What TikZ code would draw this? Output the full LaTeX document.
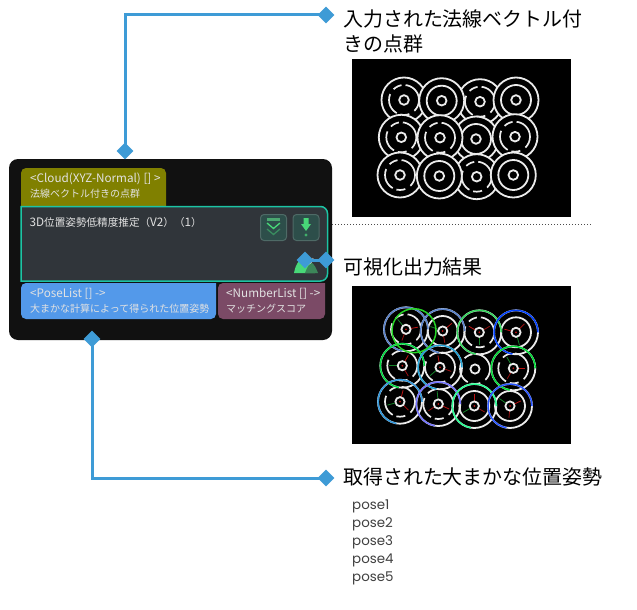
\documentclass[tikz,border=0pt]{standalone}
\usepackage{fontspec}
\usepackage{xcolor}
\usetikzlibrary{shapes.geometric, positioning}
\setmainfont{Noto Sans CJK JP}
\newfontfamily\posefont{Poppins}
\newcommand{\latinpart}[1]{{\fontsize{11.7}{15}\selectfont #1}}
\definecolor{linkblue}{RGB}{62,155,214}
\definecolor{cardblack}{RGB}{17,17,17}
\definecolor{bodygrey}{RGB}{48,53,58}
\definecolor{bodyteal}{RGB}{28,196,164}
\definecolor{hdrolive}{RGB}{128,128,0}
\definecolor{hdrblue}{RGB}{83,153,234}
\definecolor{hdrplum}{RGB}{123,74,102}
\definecolor{cardtext}{RGB}{226,226,226}
\definecolor{btnfill}{RGB}{45,78,74}
\definecolor{btnedge}{RGB}{78,106,102}
\definecolor{iconmint}{RGB}{72,216,120}
\definecolor{axisgreen}{RGB}{20,130,40}
\definecolor{axisred}{RGB}{190,20,20}
\tikzset{
  pindiamond/.style={diamond, fill=linkblue, inner sep=0pt, minimum size=17pt},
  linkline/.style={draw=linkblue, line width=3pt},
  captiontext/.style={anchor=west, inner sep=0pt, font=\fontsize{19.95}{25}\selectfont, align=left, text=black},
  porttext/.style={anchor=west, inner sep=0pt, font=\fontsize{10}{15}\selectfont, align=left, text=cardtext},
  posetext/.style={anchor=west, inner sep=0pt, font=\fontsize{13.4}{16}\selectfont\posefont, text=black!75},
  iconbtn/.style={rectangle, draw=btnedge, fill=btnfill, line width=1pt, rounded corners=3.5pt,
    minimum width=26pt, minimum height=26pt, inner sep=0pt},
  ringwhite/.style={draw=white!92!black, line width=1.8pt},
  brokenring/.style={draw=white!92!black, line width=1.7pt, dash pattern=on 22pt off 4pt on 9pt off 6pt}
}

\begin{document}
\begin{tikzpicture}[x=1pt, y=-1pt]
  \useasboundingbox (0,0) rectangle (637,610);
  \fill[white] (0,0) rectangle (637,610);

  % ── Card background and header tabs ──────────────────────────────────────
  \fill[cardblack, rounded corners=9pt] (9,159) rectangle (332,340);
  \fill[hdrolive, rounded corners=5pt] (21,206) -- (21,168) -- (166,168) [sharp corners] -- (166,206) -- cycle;
  \fill[hdrblue, rounded corners=5pt] (21,283) [sharp corners] -- (216,283) [rounded corners=5pt] -- (216,319) -- (21,319) -- cycle;
  \fill[hdrplum, rounded corners=5pt] (218,283) [sharp corners] -- (325,283) [rounded corners=5pt] -- (325,319) -- (218,319) -- cycle;
  \draw[bodyteal, fill=bodygrey, line width=1.5pt, rounded corners=7pt]
    (21,206.5) [sharp corners] -- (21,206.5) [rounded corners=7pt] -- (327.5,206.5) -- (327.5,281) [sharp corners] -- (21,281) -- cycle;

  % ── Card texts ───────────────────────────────────────────────────────────
  \node[porttext] (cloudport) at (30,186) {\latinpart{<Cloud(XYZ-Normal) [] >}\\法線ベクトル付きの点群};
  \node[porttext, font=\fontsize{10.6}{15}\selectfont] (bodytitle) at (29.5,222) {\latinpart{3D}位置姿勢低精度推定（\latinpart{V2}）（\latinpart{1}）};
  \node[porttext] (poseport) at (30,301) {\latinpart{<PoseList [] ->}\\大まかな計算によって得られた位置姿勢};
  \node[porttext] (numberport) at (226,301) {\latinpart{<NumberList [] ->}\\マッチングスコア};

  % ── Buttons and output icon ──────────────────────────────────────────────
  \node[iconbtn] (btnskip) at (273.5,227.5) {};
  \node[iconbtn] (btnrun) at (306,227.5) {};
  \fill[iconmint!55!btnedge] (267,217.5) rectangle (280,220.5);
  \draw[iconmint, line width=1.3pt] (267,223) -- (273.5,228.5) -- (280,223);
  \draw[iconmint!45!btnfill, line width=1.3pt] (267,229) -- (273.5,234.5) -- (280,229);
  \fill[iconmint] (303.5,218) rectangle (308.5,224) (301,224) -- (311,224) -- (306,231) -- cycle;
  \fill[iconmint!70!btnfill] (306,235) circle (1.6pt);
  \fill[iconmint] (294,273) .. controls (296,262) and (301,258) .. (305,258) .. controls (309,258) and (312,264) .. (315,273) -- cycle;
  \fill[iconmint!50!bodygrey] (305,273) .. controls (307,267) and (310,263) .. (312,263) .. controls (314,264) and (316,268) .. (318,273) -- cycle;
  \draw[white!85!black, line width=0.8pt] (300,258) arc (180:0:6.5);

  % ── Pins and links ───────────────────────────────────────────────────────
  \node[pindiamond] (pincloud) at (125,151) {};
  \node[pindiamond] (pincaptop) at (326,15) {};
  \node[pindiamond] (pinpose) at (92,339) {};
  \node[pindiamond] (pincapbot) at (326,478) {};
  \node[pindiamond] (pinview) at (305,260) {};
  \node[pindiamond] (pincapmid) at (326,260) {};
  \coordinate (dotstart) at (332,224);
  \coordinate (dotend) at (591,224);

  \draw[linkline] (pincloud.center) |- (pincaptop.center);
  \draw[linkline] (pinpose.center) |- (pincapbot.center);
  \draw[linkline] (pinview.center) -- (pincapmid.center);
  \draw[black!70, line width=1pt, dash pattern=on 1.2pt off 1.8pt] (dotstart) -- (dotend);

  % ── Captions ─────────────────────────────────────────────────────────────
  \node[captiontext] (capcloud) at (343,31) {入力された法線ベクトル付\\きの点群};
  \node[captiontext] (capview) at (343,266.5) {可視化出力結果};
  \node[captiontext] (cappose) at (343,476.5) {取得された大まかな位置姿勢};
  \node[posetext] (poseone) at (352,506) {pose1};
  \node[posetext] (posetwo) at (352,524) {pose2};
  \node[posetext] (posethree) at (352,542) {pose3};
  \node[posetext] (posefour) at (352,560) {pose4};
  \node[posetext] (posefive) at (352,578) {pose5};

  % ── Point cloud image ────────────────────────────────────────────────────
  \fill[black] (352,59) rectangle (571,217);
  \foreach \cx/\cy/\midring in {404/100/brokenring, 480/101.7/brokenring, 441.7/100.7/ringwhite, 516/100/ringwhite,
      401.3/137.3/brokenring, 476/139/ringwhite, 440/137.7/brokenring, 515/136.7/brokenring,
      400/175/brokenring, 476.7/176.7/brokenring, 439.3/176/ringwhite, 513.3/175/ringwhite} {
    \draw[ringwhite, fill=black] (\cx,\cy) circle (22.5pt);
    \draw[\midring] (\cx,\cy) circle (15pt);
    \draw[ringwhite] (\cx,\cy) circle (4.8pt);
  }

  % ── Result image ─────────────────────────────────────────────────────────
  \fill[black] (352,286) rectangle (571,444);
  \foreach \cx/\cy/\midring/\rot in {406/329.3/brokenring/10, 442.7/331/ringwhite/40, 479.3/332.3/brokenring/150, 516/332.3/ringwhite/165,
      402.3/365.7/brokenring/60, 440/367.3/brokenring/100, 513.3/368.3/brokenring/0,
      400/401.7/brokenring/75, 438.3/404/brokenring/-25, 474.3/406/ringwhite/90, 510/406/ringwhite/25} {
    \draw[ringwhite] (\cx,\cy) circle (22pt);
    \draw[\midring] (\cx,\cy) circle (15pt);
    \draw[axisred, line width=0.8pt] (\cx,\cy) -- ++(\rot:12pt);
    \draw[axisgreen, line width=0.8pt] (\cx,\cy) -- ++(\rot+120:13pt);
    \draw[axisred!80!black, line width=0.8pt] (\cx,\cy) -- ++(\rot+240:12pt);
    \draw[ringwhite, fill=black] (\cx,\cy) circle (4.6pt);
    \fill[axisred] (\cx,\cy) circle (1pt);
  }
  \draw[brokenring] (475,369) circle (15pt);
  \draw[ringwhite] (475,369) circle (4.6pt);
  \foreach \rx/\ry/\ringcol in {406/329.3/cyan!40!blue!70!white, 442.7/331/cyan!40!blue!70!white, 479.3/332.3/teal!40!green!80!white, 516/332.3/blue!75!cyan,
      402.3/365.7/green!70!cyan!85!black, 440/367.3/cyan!85!black, 513.3/368.3/green!75!cyan!85!black,
      400/401.7/cyan!70!blue!85!white, 438.3/404/blue!55!white, 474.3/406/green!50!cyan!85!white, 510/406/blue!80!cyan!85!white} {
    \draw[\ringcol, line width=1.5pt, dash pattern=on 100pt off 38pt] (\rx,\ry) circle (22pt);
  }
  \draw[green!80!black!85!white, line width=1.5pt] (414,330.7) circle (22pt);
\end{tikzpicture}
\end{document}
